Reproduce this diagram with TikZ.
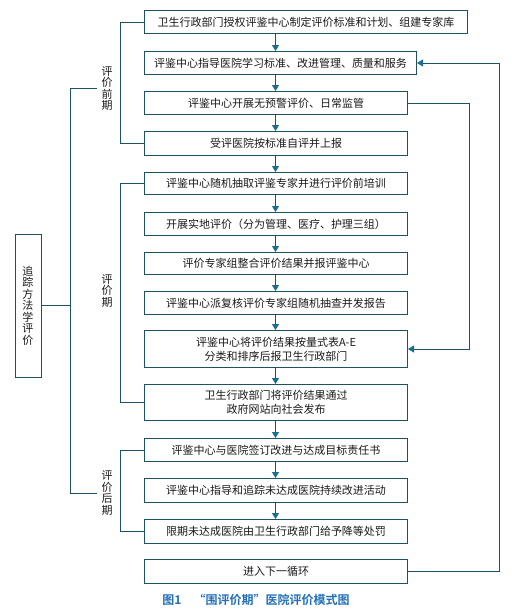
\documentclass[tikz,border=0pt]{standalone}
\usepackage{fontspec}
\setmainfont{Noto Sans CJK SC}[BoldFont={Noto Sans CJK SC Bold}]
\usetikzlibrary{arrows.meta}
\definecolor{ln}{HTML}{1D5361}
\definecolor{tip}{HTML}{1B6E8C}
\definecolor{capc}{HTML}{2270B8}
\definecolor{tx}{HTML}{1A1A1A}
\begin{document}
\begin{tikzpicture}[x=1pt,y=-1pt,
  box/.style={draw=ln, line width=1pt, anchor=north west, inner sep=0pt, text=tx, font=\fontsize{11}{14}\selectfont, align=center},
  conn/.style={draw=ln, line width=0.9pt},
  arr/.style={conn, -{Triangle[width=7pt,length=6pt,color=tip]}},
  vlab/.style={align=center, text=tx, font=\fontsize{11}{11.5}\selectfont, inner sep=4pt}]
\useasboundingbox (0,0) rectangle (531,614);
\fill[white] (0,0) rectangle (531,614);

\node[box, minimum width=323pt, minimum height=23pt] (b1) at (144,10) {卫生行政部门授权评鉴中心制定评价标准和计划、组建专家库};
\node[box, minimum width=272pt, minimum height=23pt] (b2) at (144,51) {评鉴中心指导医院学习标准、改进管理、质量和服务};
\node[box, minimum width=263pt, minimum height=23pt] (b3) at (144,91) {评鉴中心开展无预警评价、日常监管};
\node[box, minimum width=263pt, minimum height=24pt] (b4) at (144,131) {受评医院按标准自评并上报};
\node[box, minimum width=263pt, minimum height=22pt] (b5) at (144,172) {评鉴中心随机抽取评鉴专家并进行评价前培训};
\node[box, minimum width=263pt, minimum height=23pt] (b6) at (144,212) {开展实地评价（分为管理、医疗、护理三组）};
\node[box, minimum width=263pt, minimum height=22pt] (b7) at (144,252) {评价专家组整合评价结果并报评鉴中心};
\node[box, minimum width=263pt, minimum height=23pt] (b8) at (144,291) {评鉴中心派复核评价专家组随机抽查并发报告};
\node[box, minimum width=263pt, minimum height=37pt] (b9) at (144,330) {评鉴中心将评价结果按量式表A-E\\分类和排序后报卫生行政部门};
\node[box, minimum width=263pt, minimum height=36pt] (b10) at (144,384) {卫生行政部门将评价结果通过\\政府网站向社会发布};
\node[box, minimum width=263pt, minimum height=23pt] (b11) at (144,438) {评鉴中心与医院签订改进与达成目标责任书};
\node[box, minimum width=263pt, minimum height=24pt] (b12) at (144,478) {评鉴中心指导和追踪未达成医院持续改进活动};
\node[box, minimum width=263pt, minimum height=24pt] (b13) at (144,519) {限期未达成医院由卫生行政部门给予降等处罚};
\node[box, minimum width=263pt, minimum height=24pt] (b14) at (144,559) {进入下一循环};

\coordinate (ax) at (275.5,0);
\coordinate (r1) at (469,0);
\coordinate (r2) at (499,0);
\coordinate (bl) at (120,0);
\coordinate (ox) at (70,0);

\foreach \a/\b in {b1/b2,b2/b3,b3/b4,b4/b5,b5/b6,b6/b7,b7/b8,b8/b9,b9/b10,b10/b11,b11/b12,b12/b13}
  \draw[arr] (\a.south -| ax) -- (\b.north -| ax);

\draw[arr] (b3.east) -- (b3.east -| r1) -- (b9.east -| r1) -- (b9.east);
\draw[arr] (b14.east) -- (b14.east -| r2) -- (b2.east -| r2) -- (b2.east);

\draw[conn] (b1.west) -- (b1.west -| bl) -- (b4.west -| bl) -- (b4.west);
\draw[conn] (b5.west) -- (b5.west -| bl) -- (b10.west -| bl) -- (b10.west);
\draw[conn] (b11.west) -- (b11.west -| bl) -- (b13.west -| bl) -- (b13.west);

\node[vlab] (l1) at (107,88.5) {评\\价\\前\\期};
\node[vlab] (l2) at (107,291) {评\\价\\期};
\node[vlab] (l3) at (107,493) {评\\价\\后\\期};

\draw[conn] (l1.west) -- (l1.west -| ox) -- (l3.west -| ox) -- (l3.west);

\node[draw=ln, line width=1pt, minimum width=26pt, minimum height=143pt, inner sep=0pt, align=center, font=\fontsize{11}{11.5}\selectfont, text=tx] (trk) at (28,305.5) {追\\踪\\方\\法\\学\\评\\价};
\draw[conn] (trk.east) -- (trk.east -| ox);

\node[font=\fontsize{12}{14}\selectfont\bfseries, text=capc] (cap) at (256,600) {图1\quad“围评价期”医院评价模式图};
\end{tikzpicture}
\end{document}
